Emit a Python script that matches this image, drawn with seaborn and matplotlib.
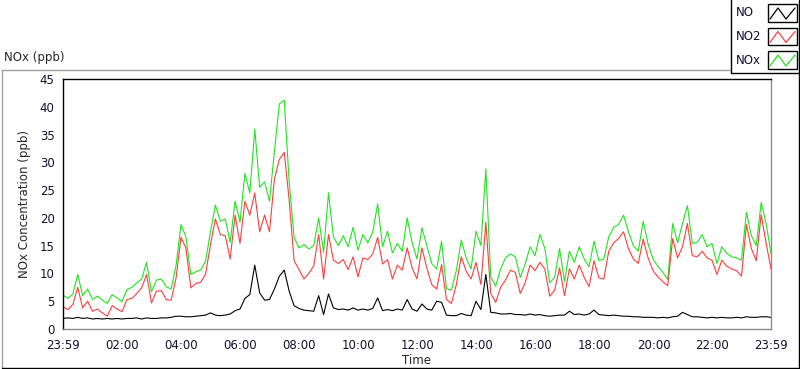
"""
NOx / NO2 / NO daily concentration chart (LabVIEW style).
"""

import matplotlib
matplotlib.use('Agg')
import matplotlib.pyplot as plt
from matplotlib.lines import Line2D
from matplotlib.patches import Rectangle
import numpy as np
import pandas as pd
import seaborn as sns

# minutes since 23:59 of the previous day, every 10 minutes
minutes = list(range(0, 1441, 10))

nox = [6.1, 5.5, 6.3, 9.8, 6.0, 7.2, 5.3, 5.9, 5.2, 4.6,
       6.2, 5.6, 4.9, 7.1, 7.5, 8.3, 9.0, 12.0, 6.7, 8.8,
       9.0, 7.6, 7.2, 11.5, 18.8, 16.6, 9.8, 10.3, 10.6, 12.2,
       17.5, 22.3, 19.4, 19.8, 15.6, 23.0, 19.2, 28.0, 24.5, 36.0,
       25.5, 26.5, 23.0, 32.0, 40.5, 41.2, 26.5, 16.5, 14.6, 15.2,
       14.4, 15.0, 20.0, 13.8, 24.5, 16.6, 15.0, 16.8, 14.8, 18.3,
       14.2, 17.0, 15.5, 17.5, 22.5, 14.8, 17.6, 13.7, 15.4, 14.0,
       20.0, 15.6, 12.6, 18.2, 15.0, 11.8, 10.8, 15.8, 7.2, 7.0,
       10.5, 16.0, 12.8, 10.8, 17.6, 15.0, 28.8, 9.4, 7.7, 10.8,
       12.8, 13.5, 13.0, 9.3, 11.7, 14.8, 13.2, 17.0, 14.5, 8.3,
       9.3, 14.5, 8.5, 14.0, 12.0, 14.8, 12.6, 11.2, 15.8, 12.3,
       12.6, 16.6, 18.3, 18.8, 20.5, 17.5, 15.0, 14.0, 19.4, 15.3,
       12.6, 11.3, 10.2, 8.9, 19.0, 15.5, 19.0, 22.2, 15.4, 15.6,
       17.0, 14.8, 15.4, 11.8, 14.8, 13.6, 13.0, 12.8, 12.4, 21.0,
       16.8, 15.0, 22.8, 19.0, 13.6]

no2 = [4.0, 3.5, 4.4, 7.5, 3.8, 5.0, 3.2, 3.6, 2.9, 2.3,
       4.2, 3.6, 3.1, 5.3, 5.5, 6.4, 7.4, 9.8, 4.7, 6.8,
       6.9, 5.3, 5.2, 9.2, 16.5, 14.6, 7.4, 8.2, 8.4, 9.9,
       15.2, 19.8, 17.0, 16.8, 12.6, 20.5, 15.4, 23.0, 20.5, 24.5,
       17.5, 20.5, 17.5, 27.0, 30.5, 31.8, 23.2, 12.3, 10.7, 9.0,
       10.0, 11.4, 17.0, 9.0, 17.0, 12.4, 11.8, 12.5, 10.7, 13.0,
       9.4, 12.8, 12.5, 13.5, 16.5, 11.7, 12.5, 9.0, 11.5, 10.6,
       14.6, 11.0, 9.0, 14.6, 11.0, 8.0, 7.2, 11.6, 5.3, 4.6,
       8.0, 13.0, 10.4, 9.0, 12.0, 8.0, 19.2, 6.4, 4.8, 7.5,
       8.8, 10.6, 10.2, 6.4, 8.3, 11.5, 10.5, 12.0, 10.8, 5.9,
       7.0, 11.0, 6.0, 10.8, 9.0, 11.5, 9.3, 7.6, 12.3, 9.2,
       9.0, 14.0, 15.5, 16.3, 17.5, 14.5, 12.6, 11.8, 16.2, 12.8,
       10.5, 9.4, 8.5, 7.8, 16.3, 12.8, 14.8, 19.0, 13.2, 13.0,
       14.0, 12.8, 12.4, 9.8, 12.4, 11.3, 10.8, 10.5, 9.5, 18.8,
       14.5, 12.3, 20.6, 15.5, 10.8]

no = [1.9, 2.0, 1.9, 2.1, 1.9, 2.0, 1.8, 1.9, 1.8, 1.9,
      1.8, 1.9, 1.8, 1.9, 1.9, 2.0, 1.8, 2.0, 1.9, 1.9,
      2.0, 2.0, 2.1, 2.3, 2.3, 2.2, 2.2, 2.3, 2.4, 2.5,
      2.9, 2.5, 2.4, 2.5, 2.7, 3.3, 3.6, 5.5, 6.2, 11.5,
      6.5, 5.2, 5.3, 7.2, 9.5, 10.6, 6.8, 4.2, 3.7, 3.4,
      3.3, 3.2, 6.0, 2.6, 6.3, 3.8, 3.5, 3.6, 3.4, 3.8,
      3.4, 3.6, 3.4, 3.7, 5.6, 3.3, 3.5, 3.3, 3.6, 3.4,
      5.3, 3.6, 3.2, 4.5, 3.6, 3.4, 5.0, 4.8, 2.5, 2.4,
      2.4, 2.8, 2.5, 2.4, 5.0, 3.5, 9.8, 3.0, 2.9, 2.7,
      2.7, 2.8, 2.6, 2.6, 2.5, 2.7, 2.5, 2.6, 2.4, 2.3,
      2.4, 2.5, 2.5, 3.2, 2.6, 2.7, 2.5, 2.7, 3.4, 2.6,
      2.5, 2.4, 2.5, 2.4, 2.3, 2.3, 2.2, 2.2, 2.1, 2.1,
      2.1, 2.0, 2.1, 2.0, 2.2, 2.3, 3.0, 2.6, 2.2, 2.2,
      2.1, 2.0, 2.1, 2.0, 2.1, 2.0, 2.0, 2.1, 2.0, 2.2,
      2.1, 2.1, 2.2, 2.2, 2.1]

series_names = ['NO', 'NO2', 'NOx']
series_colors = {'NO': '#000000', 'NO2': '#ff3c3c', 'NOx': '#1ee61e'}

tick_minutes = [0, 121, 241, 361, 481, 601, 721, 841, 961, 1081, 1201, 1321, 1440]
tick_labels = ['23:59', '02:00', '04:00', '06:00', '08:00', '10:00', '12:00',
               '14:00', '16:00', '18:00', '20:00', '22:00', '23:59']
y_ticks = list(range(0, 46, 5))

df = pd.DataFrame({'minute': minutes, 'NO': no, 'NO2': no2, 'NOx': nox})
long_df = df.melt(id_vars='minute', var_name='series', value_name='ppb')

sns.set_style('white')
plt.rcParams['font.family'] = ['DejaVu Sans']
plt.rcParams['font.size'] = 8.5

W, H = 800, 369
fig = plt.figure(figsize=(W / 100, H / 100), dpi=100)
ax = fig.add_axes([63 / W, 1 - 329 / H, 708 / W, 250 / H])

sns.lineplot(
    data=long_df, x='minute', y='ppb', hue='series',
    hue_order=['NOx', 'NO2', 'NO'], palette=series_colors,
    estimator=None, linewidth=0.8, legend=False, ax=ax
)

ax.set_xlim(0, 1440)
ax.set_ylim(0, 45)
ax.set_xticks(tick_minutes)
ax.set_xticklabels(tick_labels)
ax.set_xticks([m for m in range(21, 1440, 20) if m not in tick_minutes], minor=True)
ax.set_yticks(y_ticks)
ax.tick_params(axis='both', which='major', direction='out', length=4,
               width=1, color='black', labelsize=8.5, labelcolor='#101030', pad=2)
ax.tick_params(axis='x', which='minor', direction='out', length=3, width=1, color='black')
ax.tick_params(axis='x', which='major', length=5, width=1.5)
ax.set_xlabel('Time', fontsize=8.5, labelpad=2)
ax.set_ylabel('NOx Concentration (ppb)', fontsize=8.5, labelpad=6)
ax.grid(False)

for side, col in [('left', 'black'), ('top', 'black'), ('right', '#8c8c8c'), ('bottom', '#8c8c8c')]:
    ax.spines[side].set_visible(True)
    ax.spines[side].set_color(col)
    ax.spines[side].set_linewidth(1)


def px_line(xs, ys, color, lw=1.0):
    fig.add_artist(Line2D([x / W for x in xs], [1 - y / H for y in ys],
                          transform=fig.transFigure, color=color, lw=lw))


# outer panel frame
px_line([1.5, 730], [69.5, 69.5], '#a0a0a0')
px_line([1.5, 1.5], [69.5, 367.5], '#a0a0a0')
px_line([1.5, 798.5], [367.5, 367.5], 'black')
px_line([798.5, 798.5], [0, 367.5], 'black')

# legend box
px_line([730.5, 730.5], [0, 72.5], 'black')
px_line([730.5, 798.5], [72.5, 72.5], 'black')
fig.text(4 / W, 1 - 58 / H, 'NOx (ppb)', fontsize=8.5, va='center', ha='left')

for i, name in enumerate(series_names):
    yc = 13 + 23.5 * i
    fig.text(736 / W, 1 - yc / H, name, fontsize=8.5, va='center', ha='left', color='#101030')
    fig.add_artist(Rectangle((767.5 / W, 1 - (yc + 8.5) / H), 29 / W, 17 / H,
                             transform=fig.transFigure, fill=False,
                             edgecolor='black', lw=1))
    zx = [770, 778, 786, 795]
    zy = [yc + 6, yc - 5, yc + 6, yc - 5]
    px_line(zx, zy, series_colors[name], lw=0.9)

plt.savefig('out.png', dpi=100)
